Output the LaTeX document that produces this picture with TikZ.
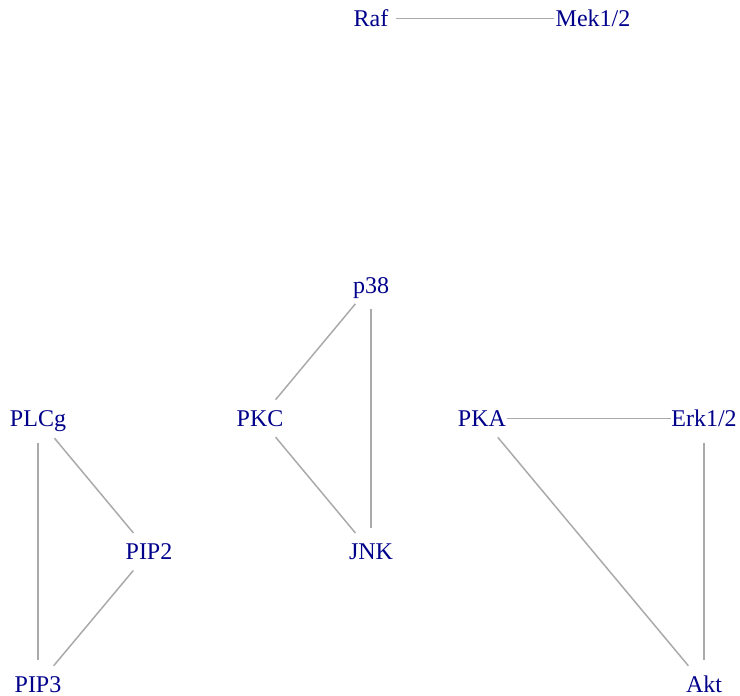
\documentclass[tikz,border=0pt]{standalone}
\usepackage{fontspec}
\setmainfont{Liberation Serif}
\usetikzlibrary{shapes.geometric}
\definecolor{nodeblue}{RGB}{0,0,139}
\definecolor{edgegray}{RGB}{170,170,170}
\newcommand{\gtxt}[1]{\makebox[0pt]{\smash{#1}}\rule{0pt}{15.9pt}}
\begin{document}
\begin{tikzpicture}[x=1pt,y=-1pt,
  gn/.style={ellipse, inner sep=0pt, minimum height=48pt, minimum width=49pt,
    text=nodeblue, font=\fontsize{24}{28}\selectfont},
  ge/.style={draw=edgegray, line width=1.5pt}]
\useasboundingbox (0,0) rectangle (740,696);
% rows: 18.5, 285.1, 418.4, 551.7, 684 ; columns: 38 + 111k
\node[gn] (raf)  at (371,18.5)  {\gtxt{Raf}};
\node[gn, minimum width=78pt] (mek)  at (593,18.5)  {\gtxt{Mek1/2}};
\node[gn] (p38)  at (371,285.1) {\gtxt{p38}};
\node[gn, minimum width=57pt] (plcg) at (38,418.4)  {\gtxt{PLCg}};
\node[gn] (pkc)  at (260,418.4) {\gtxt{PKC}};
\node[gn, minimum width=50pt] (pka)  at (482,418.4) {\gtxt{PKA}};
\node[gn, minimum width=65pt] (erk)  at (704,418.4) {\gtxt{Erk1/2}};
\node[gn] (pip2) at (149,551.7) {\gtxt{PIP2}};
\node[gn] (jnk)  at (371,551.7) {\gtxt{JNK}};
\node[gn] (pip3) at (38,684.5)  {\gtxt{PIP3}};
\node[gn] (akt)  at (704,684.5) {\gtxt{Akt}};
\draw[ge] (raf) -- (mek);
\draw[ge] (plcg) -- (pip2);
\draw[ge] (plcg) -- (pip3);
\draw[ge] (pip2) -- (pip3);
\draw[ge] (p38) -- (pkc);
\draw[ge] (p38) -- (jnk);
\draw[ge] (pkc) -- (jnk);
\draw[ge] (pka) -- (erk);
\draw[ge] (pka) -- (akt);
\draw[ge] (erk) -- (akt);
\end{tikzpicture}
\end{document}
